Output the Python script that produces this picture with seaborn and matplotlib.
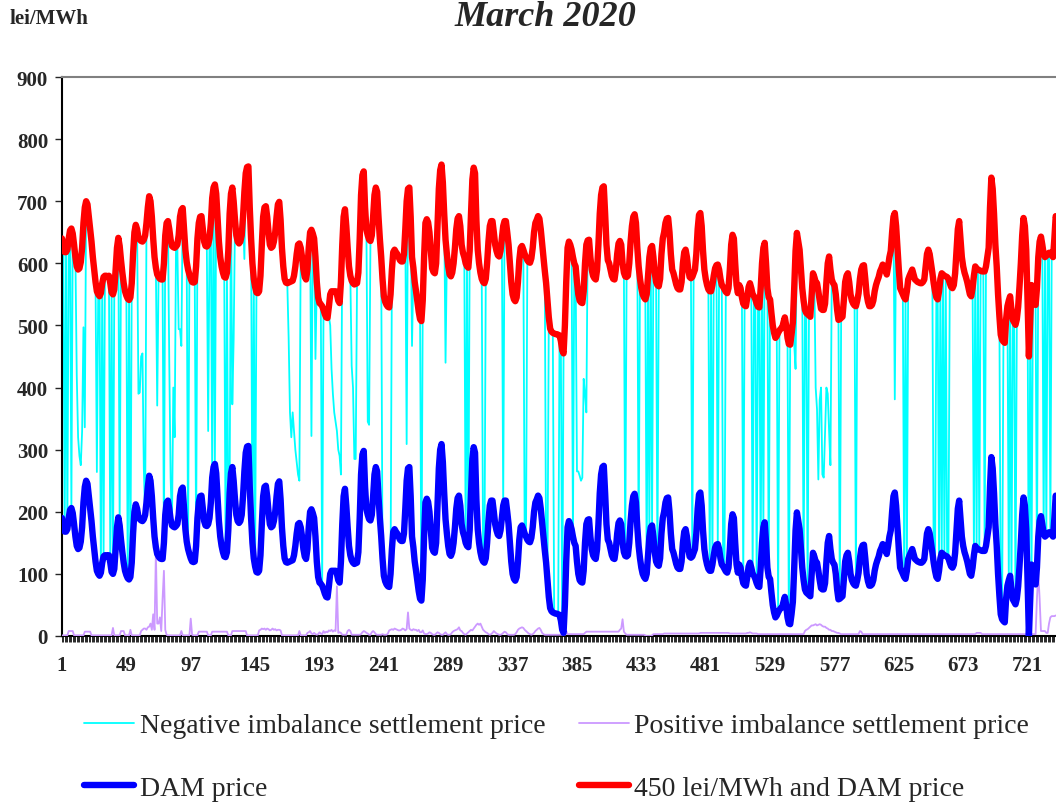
import matplotlib
matplotlib.use("Agg")
import matplotlib.pyplot as plt
import seaborn as sns
import pandas as pd
from matplotlib.lines import Line2D

# ---------------- data (hourly, March 2020, hours 1..744) ----------------
dam_days = [
    [190,172,168,168,172,190,203,206,198,180,160,145,140,142,152,175,215,240,250,245,225,205,185,160],
    [140,120,105,100,97,102,118,128,130,130,128,130,118,103,100,108,140,175,191,178,155,135,118,105],
    [98,93,91,95,118,165,200,212,205,192,188,186,185,188,195,215,240,258,250,225,190,160,143,132],
    [128,125,124,124,150,195,215,218,205,188,178,176,175,177,180,195,225,236,239,205,172,152,140,132],
    [125,120,119,120,145,190,215,225,226,205,185,178,177,180,190,215,255,272,277,262,225,185,160,145],
    [135,128,127,135,170,230,262,272,250,220,195,185,182,185,195,225,265,295,305,306,240,190,150,125],
    [112,103,102,105,130,180,225,240,242,225,200,180,175,177,185,200,225,245,249,220,175,145,125,119],
    [118,119,120,121,122,130,145,165,180,182,175,160,140,128,124,140,175,200,204,198,190,160,120,95],
    [86,84,81,75,68,63,62,80,100,105,105,105,105,100,90,86,120,180,225,237,210,175,145,130],
    [122,118,116,117,118,135,190,260,292,298,240,204,195,188,186,195,225,260,272,265,225,190,161,125],
    [97,88,83,80,79,100,140,168,172,168,165,160,155,153,153,165,205,250,270,272,225,160,143,120],
    [105,88,72,60,57,90,160,215,221,216,200,170,142,136,134,150,210,270,300,309,280,230,188,165],
    [145,132,129,135,150,175,205,222,226,210,180,167,160,150,145,143,170,230,285,304,295,220,172,150],
    [135,125,120,118,125,150,185,210,218,218,200,180,170,163,161,170,190,210,218,218,200,180,150,120],
    [100,92,89,95,120,155,175,178,172,165,160,155,152,151,158,175,200,215,220,226,222,205,182,160],
    [138,118,90,63,45,40,38,37,36,36,35,34,25,10,5,50,120,175,185,180,172,160,150,145],
    [120,100,90,87,86,105,150,180,187,188,160,140,130,126,124,140,180,230,260,272,274,230,180,155],
    [150,140,130,125,124,140,165,182,186,180,150,135,129,128,130,150,185,210,225,229,215,175,145,125],
    [110,100,95,92,100,130,160,175,178,160,135,120,115,113,125,165,190,200,215,222,223,200,165,140],
    [134,125,116,110,108,108,120,150,168,172,160,140,128,126,128,134,140,165,205,228,231,210,170,140],
    [125,115,108,105,105,115,130,142,147,148,140,125,115,112,108,104,102,110,140,180,196,190,150,115],
    [102,115,110,95,85,82,81,95,112,118,110,100,97,92,85,80,79,110,150,175,183,150,110,95],
    [92,70,50,38,30,33,38,42,45,46,55,63,50,30,20,19,35,55,110,170,199,185,172,140],
    [110,90,75,70,68,66,64,100,134,128,120,118,105,90,77,75,75,85,120,150,161,140,124,118],
    [115,100,75,59,60,62,64,90,120,130,134,120,100,90,85,82,81,90,102,125,140,146,147,125],
    [100,88,81,81,83,90,105,115,122,128,137,142,148,145,138,132,145,160,170,200,225,231,210,175],
    [140,110,105,100,95,92,105,124,130,135,140,132,124,122,120,119,118,118,120,124,145,165,172,165],
    [150,135,118,105,95,92,105,125,134,132,130,129,128,125,118,112,110,115,134,170,205,218,190,160],
    [145,135,128,120,110,100,97,110,130,145,142,140,139,138,137,137,137,145,160,175,240,288,270,230],
    [180,145,100,65,35,27,24,22,60,81,90,97,75,59,55,51,60,80,113,150,195,223,210,172],
    [90,0,60,115,100,85,83,110,160,185,193,180,165,160,162,165,167,167,163,160,190,226,220,210],
]

pos_days = [
    [1,1,1,1,1,8,8,8,8,1,1,1,1,1,1,1,1,7,7,7,7,7,1,1],
    [1,1,1,1,1,1,1,1,1,1,1,1,1,1,13,1,1,1,1,1,8,8,8,1],
    [1,1,1,10,1,1,1,1,1,1,1,8,10,12,12,10,14,15,20,10,35,10,135,20],
    [20,30,8,60,105,10,2,1,1,1,1,1,1,1,1,1,1,8,1,1,1,1,1,1],
    [28,2,1,1,1,1,7,7,7,7,7,7,7,1,1,1,7,7,7,7,7,7,7,7],
    [7,7,7,7,1,1,1,8,8,8,8,8,8,8,8,8,8,8,1,1,1,1,1,1],
    [1,1,1,9,10,12,11,12,10,12,11,9,10,12,10,11,9,10,10,9,1,1,1,1],
    [1,1,1,1,1,1,1,1,1,8,1,1,1,1,1,5,6,8,4,3,5,3,2,3],
    [6,4,3,8,5,7,6,9,8,10,7,9,8,80,5,6,5,2,2,2,2,8,10,8],
    [2,2,2,2,2,2,2,3,6,8,7,5,4,2,2,6,8,6,3,2,2,2,2,3],
    [2,2,2,4,9,10,11,10,12,11,10,9,9,10,12,11,9,11,38,12,10,9,11,10],
    [10,8,10,6,6,9,4,3,3,4,6,5,3,2,2,4,6,5,3,2,2,4,6,3],
    [2,2,3,6,8,9,10,11,14,9,8,5,3,2,4,6,8,10,9,12,15,18,20,18],
    [20,15,10,8,6,5,3,2,3,5,8,6,4,3,2,2,3,5,7,6,3,2,2,2],
    [2,2,3,6,10,12,13,14,13,10,8,6,4,3,2,3,5,8,10,12,13,10,5,3],
    [2,2,2,2,2,2,2,2,2,2,2,2,2,2,2,2,8,3,3,3,3,3,3,3],
    [3,3,3,3,3,3,5,7,7,7,7,7,7,7,7,7,7,7,7,7,7,7,7,7],
    [7,7,7,7,7,7,7,7,10,12,27,7,4,2,2,2,2,2,2,2,2,2,2,2],
    [2,2,2,1,0,0,0,0,1,3,3,3,3,3,3,3,3,4,4,4,4,4,4,4],
    [4,4,4,4,4,4,4,4,4,4,4,4,4,4,4,4,4,4,4,4,5,5,5,5],
    [5,5,5,5,5,5,5,5,5,5,5,5,5,5,5,5,5,5,4,4,4,4,4,4],
    [4,4,4,4,4,4,4,5,5,6,5,4,4,4,4,3,3,3,3,3,3,3,3,3],
    [3,3,3,3,3,3,3,3,3,3,3,3,3,3,3,3,3,3,3,3,3,3,3,3],
    [3,3,8,10,11,13,15,17,17,18,19,17,18,19,18,16,15,15,13,12,10,10,8,8],
    [7,6,5,5,4,3,3,3,3,3,3,3,3,3,3,3,3,3,3,8,7,3,3,3],
    [3,3,3,3,3,3,3,3,3,3,3,3,3,3,3,3,3,3,3,3,3,3,3,3],
    [3,3,3,3,3,3,3,3,3,3,3,3,3,3,3,3,3,3,3,3,3,3,3,3],
    [3,3,3,3,3,3,3,3,3,3,3,3,3,3,3,3,3,3,3,3,3,3,3,3],
    [3,3,3,3,3,3,3,3,3,3,5,5,5,5,3,3,3,3,3,3,3,3,3,3],
    [3,3,3,3,3,3,3,3,3,3,3,3,3,3,3,3,3,3,3,3,3,3,3,3],
    [3,3,3,3,3,3,3,60,102,60,8,8,8,8,5,5,20,30,32,32,32,33,33,33],
]

# negative imbalance price: equals "450 lei/MWh and DAM price" except at these hours
neg_dam_hours = [3, 5, 8, 30, 32, 37, 39, 44, 50, 52, 63, 77, 83, 95, 101, 115,
                 113, 123, 125, 126, 143, 145, 195, 240, 241, 242, 243, 244, 245, 246,
                 269, 302, 304, 315, 316, 330, 346, 347, 362, 363, 368, 369, 370, 371,
                 374, 382, 421, 431, 437, 439, 441, 445, 471, 484, 486, 490, 494, 495,
                 509, 516, 519, 522, 524, 528, 535, 543, 554, 557, 581, 593,
                 629, 631, 651, 652, 655, 657, 659, 661, 662, 681, 683, 685, 689,
                 701, 702, 707, 709, 712, 722, 724, 728, 733, 735, 738]
neg_fix_hours = [1, 2, 12, 13, 14, 15, 16, 17, 18, 27, 58, 59, 60, 61, 62, 72, 81, 82, 84, 85,
                 88, 89, 90, 110, 128, 129, 137, 170, 171, 172, 173, 174, 175, 176, 177, 178,
                 187, 190, 200, 201, 202, 203, 204, 205, 206, 207, 208, 209, 217, 218, 219, 220,
                 229, 230, 258, 262, 287, 385, 386, 387, 388, 389, 390, 391, 392,
                 547, 548, 563, 564, 565, 566, 567, 568, 569, 570, 571, 572, 573, 574, 622]
neg_fix_values = [465, 615, 420, 320, 290, 275, 330, 497, 336, 264, 390, 392, 450, 455, 270, 371, 440, 255, 400, 320,
                  494, 494, 467, 330, 373, 478, 607, 480, 360, 320, 360, 330, 300, 280, 260, 250,
                  322, 446, 515, 500, 430, 390, 360, 345, 330, 300, 290, 260, 435, 400, 285, 285,
                  345, 340, 309, 467, 440, 265, 265, 258, 250, 255, 414, 390, 360,
                  470, 430, 400, 365, 252, 380, 400, 260, 255, 330, 400, 390, 330, 275, 381]

tick_hours = [1, 49, 97, 145, 193, 241, 289, 337, 385, 433, 481, 529, 577, 625, 673, 721]
cap_adder = 450

labels = ["Negative imbalance settlement price", "Positive imbalance settlement price",
          "DAM price", "450 lei/MWh and DAM price"]

# ---------------- build series ----------------
dam_price = [v for d in dam_days for v in d]
pos_price = [v for d in pos_days for v in d]
hours = list(range(1, len(dam_price) + 1))
cap_price = [v + cap_adder for v in dam_price]
neg_price = list(cap_price)
for h in neg_dam_hours:
    neg_price[h - 1] = dam_price[h - 1]
for h, v in zip(neg_fix_hours, neg_fix_values):
    neg_price[h - 1] = v

df = pd.DataFrame({"hour": hours, "neg": neg_price, "pos": pos_price,
                   "dam": dam_price, "cap": cap_price})

# ---------------- style ----------------
sns.set_style("white")
plt.rcParams["font.family"] = ["Liberation Serif", "DejaVu Serif"]

W, H = 1056, 804
fig = plt.figure(figsize=(W / 100, H / 100), dpi=100)
left_px, right_px, top_px, bot_px = 62, 1058.4, 78, 637
ax = fig.add_axes([left_px / W, 1 - bot_px / H, (right_px - left_px) / W, (bot_px - top_px) / H])

c_neg, c_pos, c_dam, c_cap = "#00FFFF", "#CC99FF", "#0000FF", "#FF0000"
kw = dict(ax=ax, estimator=None, sort=False, legend=False)
sns.lineplot(data=df, x="hour", y="neg", color=c_neg, linewidth=1.3, zorder=2, **kw)
sns.lineplot(data=df, x="hour", y="pos", color=c_pos, linewidth=1.3, zorder=3, **kw)
sns.lineplot(data=df, x="hour", y="dam", color=c_dam, linewidth=4.6, zorder=4, **kw)
sns.lineplot(data=df, x="hour", y="cap", color=c_cap, linewidth=4.6, zorder=5, **kw)

ax.set_xlim(1, 744)
ax.set_ylim(0, 900)
ax.set_xlabel("")
ax.set_ylabel("")
ax.set_yticks(range(0, 901, 100))
ax.set_xticks(tick_hours)
ax.set_xticks(hours, minor=True)
ax.set_xticklabels([str(t) for t in tick_hours])
for lab in ax.get_xticklabels() + ax.get_yticklabels():
    lab.set_fontweight("bold")
    lab.set_fontsize(15)
ax.tick_params(axis="y", which="major", direction="out", length=5, width=1, left=True, pad=5)
ax.tick_params(axis="x", which="both", direction="out", length=4, width=0.7, bottom=True, pad=10)
for s in ["left", "bottom"]:
    ax.spines[s].set_color("black")
    ax.spines[s].set_linewidth(1.5)
ax.spines["top"].set_color("#808080")
ax.spines["top"].set_linewidth(1.5)
ax.spines["right"].set_visible(False)
ax.grid(False)

fig.text(545 / W, 1 - 17 / H, "March 2020", fontsize=26, fontweight="bold", fontstyle="italic",
         ha="center", va="center")
fig.text(10 / W, 1 - 19 / H, "lei/MWh", fontsize=15, fontweight="bold", ha="left", va="center")

handles = [Line2D([], [], color=c_neg, lw=1.3), Line2D([], [], color=c_dam, lw=4.6),
           Line2D([], [], color=c_pos, lw=1.3), Line2D([], [], color=c_cap, lw=4.6)]
fig.legend(handles, [labels[0], labels[2], labels[1], labels[3]], ncol=2, loc="upper left",
           bbox_to_anchor=(84 / W, 1 - 714 / H), frameon=False, prop={"size": 20},
           handlelength=1.8, handletextpad=0.2, columnspacing=1.2, labelspacing=1.32,
           borderaxespad=0, borderpad=0)

fig.savefig("out.png", dpi=100)
